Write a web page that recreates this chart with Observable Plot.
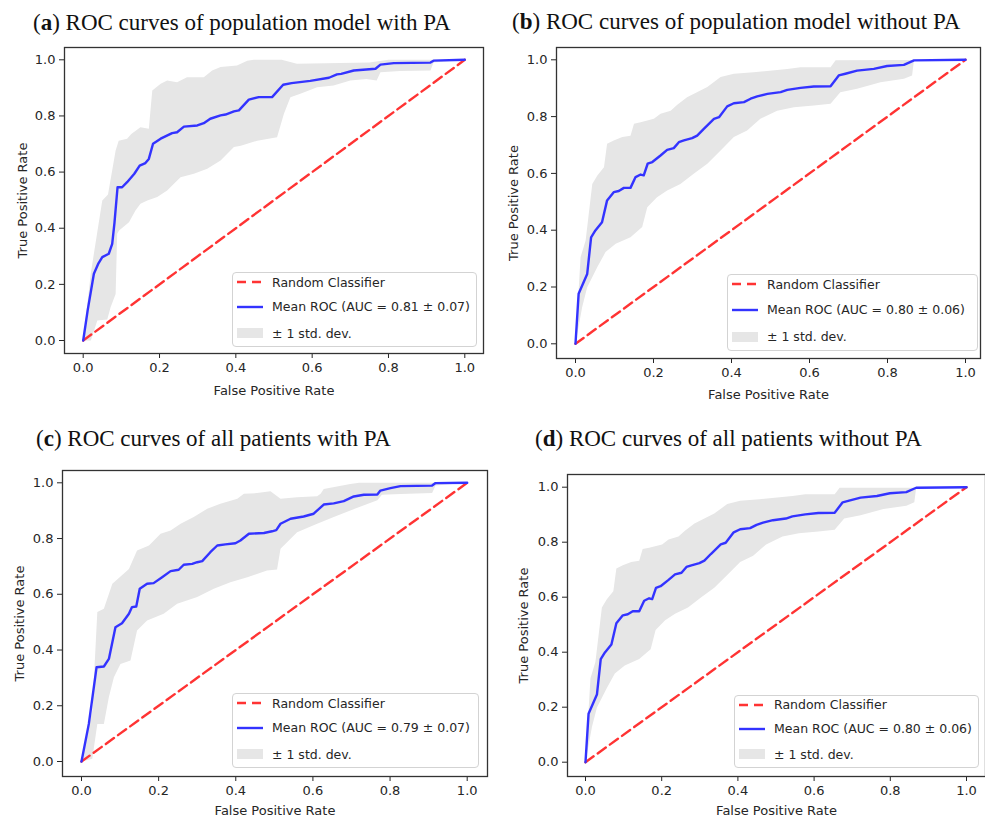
<!DOCTYPE html>
<html>
<head>
<meta charset="utf-8">
<script src="https://cdn.jsdelivr.net/npm/d3@7"></script>
<script src="https://cdn.jsdelivr.net/npm/@observablehq/plot@0.6"></script>
<style>
  body { margin: 0; background: #fff; }
  #root { position: relative; width: 985px; height: 818px; overflow: hidden; background: #fff; }
  .title { position: absolute; font-family: "Liberation Serif", serif; font-size: 23px; line-height: 23px; color: #111; white-space: nowrap; }
  .plot { position: absolute; }
  .legend { position: absolute; box-sizing: border-box; border: 1px solid #d3d3d3; border-radius: 4px; background: rgba(255,255,255,0.85); font-family: "DejaVu Sans", sans-serif; font-size: 12.5px; color: #262626; }
  .row { position: absolute; left: 0; right: 0; height: 20px; display: flex; align-items: center; white-space: nowrap; }
  .row svg { margin-left: 4px; margin-right: 9px; flex: none; }
</style>
</head>
<body>
<div id="root"></div>
<script>
// ---------- data ----------
const tickValues = [0, 0.2, 0.4, 0.6, 0.8, 1.0];
const diagonal = [[0, 0], [1, 1]];

const panelLetters = ["a", "b", "c", "d"];
const panelTitles = [
  "ROC curves of population model with PA",
  "ROC curves of population model without PA",
  "ROC curves of all patients with PA",
  "ROC curves of all patients without PA"
];
const aucLabels = [
  "Mean ROC (AUC = 0.81 ± 0.07)",
  "Mean ROC (AUC = 0.80 ± 0.06)",
  "Mean ROC (AUC = 0.79 ± 0.07)",
  "Mean ROC (AUC = 0.80 ± 0.06)"
];
const legendLabels = ["Random Classifier", "± 1 std. dev."];

// (a) population model with PA  [fpr, tpr]
const meanA = [[0,0],[0.012,0.11],[0.028,0.238],[0.040,0.275],[0.050,0.297],[0.067,0.309],[0.076,0.344],[0.082,0.42],[0.090,0.546],[0.102,0.546],[0.115,0.564],[0.134,0.594],[0.148,0.623],[0.163,0.632],[0.172,0.647],[0.183,0.701],[0.203,0.719],[0.233,0.739],[0.246,0.742],[0.264,0.762],[0.299,0.766],[0.316,0.774],[0.333,0.790],[0.360,0.802],[0.373,0.805],[0.395,0.816],[0.408,0.820],[0.434,0.858],[0.460,0.867],[0.495,0.867],[0.524,0.911],[0.546,0.917],[0.595,0.925],[0.644,0.936],[0.665,0.948],[0.676,0.950],[0.709,0.962],[0.766,0.968],[0.779,0.983],[0.814,0.988],[0.910,0.990],[0.918,0.997],[1,1]];
const upperA = [[0,0],[0.010,0.12],[0.020,0.24],[0.032,0.344],[0.050,0.499],[0.065,0.52],[0.085,0.677],[0.093,0.712],[0.115,0.719],[0.126,0.736],[0.150,0.760],[0.172,0.754],[0.181,0.891],[0.203,0.915],[0.220,0.926],[0.246,0.920],[0.272,0.938],[0.316,0.938],[0.338,0.962],[0.360,0.974],[0.403,0.980],[0.430,0.997],[0.447,1.0],[0.52,1.0],[0.56,0.986],[0.75,0.99],[0.80,1.0],[1,1]];
const lowerA = [[0,0],[0.02,0.0],[0.037,0.071],[0.063,0.075],[0.072,0.119],[0.085,0.166],[0.089,0.380],[0.094,0.392],[0.120,0.421],[0.137,0.463],[0.150,0.487],[0.168,0.499],[0.194,0.511],[0.220,0.534],[0.255,0.582],[0.290,0.594],[0.325,0.612],[0.360,0.641],[0.395,0.689],[0.413,0.694],[0.456,0.712],[0.508,0.724],[0.526,0.808],[0.543,0.867],[0.569,0.879],[0.613,0.902],[0.656,0.908],[0.700,0.926],[0.742,0.932],[0.769,0.926],[0.779,0.956],[0.830,0.960],[0.910,0.962],[0.918,0.990],[1,1]];

// (b) population model without PA
const meanB = [[0,0],[0.008,0.176],[0.030,0.246],[0.040,0.375],[0.051,0.399],[0.068,0.428],[0.081,0.505],[0.098,0.534],[0.111,0.538],[0.124,0.549],[0.141,0.549],[0.154,0.587],[0.167,0.596],[0.175,0.593],[0.185,0.634],[0.197,0.640],[0.218,0.663],[0.235,0.683],[0.252,0.689],[0.265,0.710],[0.278,0.716],[0.299,0.724],[0.312,0.733],[0.329,0.757],[0.355,0.792],[0.368,0.798],[0.389,0.836],[0.406,0.847],[0.432,0.851],[0.449,0.863],[0.466,0.871],[0.492,0.880],[0.526,0.886],[0.543,0.894],[0.577,0.901],[0.611,0.906],[0.654,0.907],[0.675,0.945],[0.692,0.951],[0.722,0.962],[0.765,0.968],[0.799,0.978],[0.842,0.982],[0.868,0.998],[1,1]];
const upperB = [[0,0],[0.013,0.305],[0.026,0.364],[0.043,0.563],[0.056,0.593],[0.073,0.622],[0.081,0.704],[0.098,0.716],[0.120,0.728],[0.141,0.733],[0.150,0.775],[0.167,0.780],[0.201,0.792],[0.218,0.810],[0.244,0.821],[0.261,0.842],[0.286,0.868],[0.338,0.904],[0.372,0.939],[0.406,0.951],[0.457,0.956],[0.543,0.968],[0.577,0.974],[0.654,0.974],[0.667,0.998],[1,1]];
const lowerB = [[0,0],[0.017,0.129],[0.030,0.199],[0.056,0.270],[0.077,0.323],[0.103,0.352],[0.141,0.375],[0.171,0.411],[0.184,0.481],[0.209,0.516],[0.235,0.540],[0.269,0.563],[0.303,0.599],[0.338,0.634],[0.372,0.681],[0.406,0.728],[0.440,0.751],[0.474,0.792],[0.517,0.821],[0.560,0.833],[0.611,0.839],[0.654,0.845],[0.679,0.886],[0.722,0.898],[0.782,0.921],[0.842,0.933],[0.863,0.945],[0.868,1.0],[1,1]];

// (c) all patients with PA
const meanC = [[0,0],[0.019,0.135],[0.039,0.338],[0.058,0.341],[0.071,0.368],[0.088,0.482],[0.105,0.496],[0.123,0.530],[0.131,0.554],[0.142,0.556],[0.151,0.620],[0.170,0.638],[0.187,0.640],[0.209,0.661],[0.231,0.683],[0.252,0.688],[0.265,0.706],[0.287,0.709],[0.300,0.715],[0.313,0.719],[0.334,0.751],[0.352,0.775],[0.373,0.779],[0.399,0.783],[0.412,0.793],[0.434,0.817],[0.473,0.820],[0.494,0.826],[0.505,0.830],[0.516,0.853],[0.542,0.871],[0.576,0.879],[0.602,0.889],[0.628,0.922],[0.654,0.926],[0.680,0.934],[0.706,0.951],[0.732,0.957],[0.767,0.958],[0.775,0.972],[0.801,0.981],[0.827,0.988],[0.909,0.990],[0.918,0.999],[1,1]];
const upperC = [[0,0],[0.028,0.183],[0.041,0.536],[0.058,0.548],[0.080,0.638],[0.099,0.661],[0.123,0.691],[0.144,0.757],[0.175,0.775],[0.205,0.817],[0.231,0.829],[0.257,0.853],[0.291,0.877],[0.326,0.907],[0.360,0.925],[0.404,0.943],[0.421,0.961],[0.455,0.963],[0.490,0.970],[0.516,0.943],[0.559,0.948],[0.611,0.952],[0.620,0.961],[0.628,0.978],[0.697,0.996],[0.72,1],[1,1]];
const lowerC = [[0,0],[0.028,0.010],[0.041,0.135],[0.058,0.135],[0.071,0.231],[0.084,0.302],[0.101,0.350],[0.127,0.362],[0.144,0.470],[0.170,0.506],[0.213,0.530],[0.248,0.566],[0.300,0.590],[0.343,0.620],[0.386,0.643],[0.430,0.661],[0.481,0.685],[0.507,0.689],[0.516,0.763],[0.559,0.823],[0.611,0.853],[0.654,0.877],[0.697,0.901],[0.767,0.937],[0.779,0.957],[0.827,0.960],[0.909,0.963],[0.918,0.990],[1,1]];

// (d) all patients without PA (same curves as b in the source figure)
const meanD = meanB;
const upperD = upperB;
const lowerD = lowerB;

const means = [meanA, meanB, meanC, meanD];
const uppers = [upperA, upperB, upperC, upperD];
const lowers = [lowerA, lowerB, lowerC, lowerD];

// ---------- layout (page pixels) ----------
// svg: [left, top, width, height]; frame: [left, top, right, bottom];
// cal: pixel of x=0, x=1, y=0, y=1 ; legend: [left, top, width, height]
const layout = [
  {title: [33, 30],  svg: [0, 40, 492, 370],   frame: [64, 47, 483, 353],  cal: [82.7, 464.3, 340, 59.3],  legend: [232, 272, 245, 75], yOff: 47, xOff: 41},
  {title: [512, 29], svg: [495, 40, 490, 370], frame: [556, 47, 980, 358], cal: [575, 965, 343.3, 59.3],   legend: [727, 274, 251, 77], yOff: 48, xOff: 40},
  {title: [36, 446], svg: [0, 455, 492, 363],  frame: [62, 470, 487, 776], cal: [81, 466.7, 761, 482.3],   legend: [232, 693, 247, 75], yOff: 48, xOff: 38},
  {title: [535, 446],svg: [495, 455, 490, 363],frame: [567, 474, 985, 776],cal: [585, 966, 761.7, 486.7],  legend: [734, 695, 245, 73], yOff: 49, xOff: 38}
];

const COLORS = {mean: "#3333ff", diag: "#ff3333", band: "#e6e6e6", frame: "#333333", text: "#262626"};

const root = document.getElementById("root");

function swatch(kind) {
  const ns = "http://www.w3.org/2000/svg";
  const s = document.createElementNS(ns, "svg");
  s.setAttribute("width", 26); s.setAttribute("height", 12);
  if (kind === "rect") {
    const r = document.createElementNS(ns, "rect");
    r.setAttribute("x", 0); r.setAttribute("y", 1); r.setAttribute("width", 26); r.setAttribute("height", 10);
    r.setAttribute("fill", COLORS.band);
    s.appendChild(r);
  } else {
    const l = document.createElementNS(ns, "line");
    l.setAttribute("x1", 0); l.setAttribute("x2", 26); l.setAttribute("y1", 6); l.setAttribute("y2", 6);
    l.setAttribute("stroke", kind === "dash" ? COLORS.diag : COLORS.mean);
    l.setAttribute("stroke-width", 2.4);
    if (kind === "dash") l.setAttribute("stroke-dasharray", "9,6");
    s.appendChild(l);
  }
  return s;
}

layout.forEach((cfg, i) => {
  // title
  const t = document.createElement("div");
  t.className = "title";
  t.style.left = cfg.title[0] + "px";
  t.style.top = (cfg.title[1] - 19.3) + "px";
  const b = document.createElement("b");
  b.textContent = panelLetters[i];
  t.append("(", b, ") " + panelTitles[i]);
  root.appendChild(t);

  const [sx, sy, sw, sh] = cfg.svg;
  const [fl, ft, fr, fb] = cfg.frame;
  const [x0, x1, y0, y1] = cfg.cal;
  const xDomain = [(fl - x0) / (x1 - x0), (fr - x0) / (x1 - x0)];
  const yDomain = [(y0 - fb) / (y0 - y1), (y0 - ft) / (y0 - y1)];
  const band = uppers[i].concat(lowers[i].slice().reverse());

  const chart = Plot.plot({
    width: sw, height: sh,
    marginLeft: fl - sx, marginRight: sx + sw - fr, marginTop: ft - sy, marginBottom: sy + sh - fb,
    style: {fontFamily: "DejaVu Sans, sans-serif", fontSize: "13px", color: COLORS.text, background: "transparent", overflow: "visible"},
    x: {domain: xDomain, ticks: tickValues, tickFormat: d3.format(".1f"), tickSize: 5, tickPadding: 4,
        label: "False Positive Rate", labelAnchor: "center", labelOffset: cfg.xOff, labelArrow: "none"},
    y: {domain: yDomain, ticks: tickValues, tickFormat: d3.format(".1f"), tickSize: 5, tickPadding: 4,
        label: "True Positive Rate", labelAnchor: "center", labelOffset: cfg.yOff, labelArrow: "none"},
    marks: [
      Plot.line(band, {x: d => d[0], y: d => d[1], fill: COLORS.band, stroke: "none"}),
      Plot.line(diagonal, {x: d => d[0], y: d => d[1], stroke: COLORS.diag, strokeWidth: 2.4, strokeDasharray: "10,5"}),
      Plot.line(means[i], {x: d => d[0], y: d => d[1], stroke: COLORS.mean, strokeWidth: 2.4}),
      Plot.frame({stroke: COLORS.frame, strokeWidth: 1.3})
    ]
  });
  chart.classList.add("plot");
  chart.style.left = sx + "px";
  chart.style.top = sy + "px";
  root.appendChild(chart);

  // legend
  const [lx, ly, lw, lh] = cfg.legend;
  const lg = document.createElement("div");
  lg.className = "legend";
  Object.assign(lg.style, {left: lx + "px", top: ly + "px", width: lw + "px", height: lh + "px"});
  const rows = [["dash", legendLabels[0]], ["solid", aucLabels[i]], ["rect", legendLabels[1]]];
  const centers = [10, 34.7, 61];
  rows.forEach(([kind, label], k) => {
    const r = document.createElement("div");
    r.className = "row";
    r.style.top = (centers[k] * lh / 75 - 11) + "px";
    r.appendChild(swatch(kind));
    const sp = document.createElement("span");
    sp.textContent = label;
    r.appendChild(sp);
    lg.appendChild(r);
  });
  root.appendChild(lg);
});
</script>
</body>
</html>
